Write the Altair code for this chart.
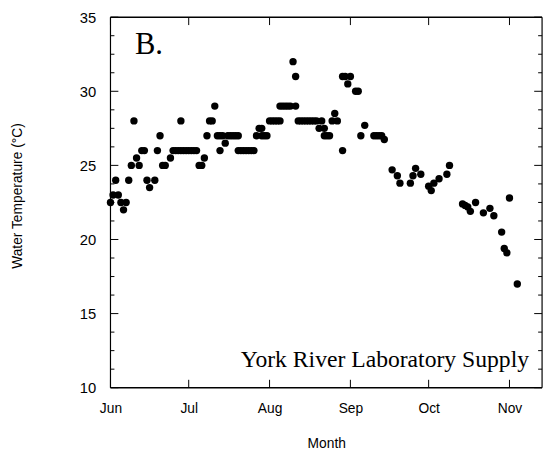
import altair as alt
import pandas as pd

# Day index counted from June 1 (0) ; water temperature in deg C
days = [0, 1, 2, 3, 4, 5, 6, 7, 8, 9, 10, 11, 12, 13, 14, 15, 17, 18, 19, 20, 21, 23,
        24, 25, 26, 27, 27, 28, 29, 30, 31, 32, 33,
        34, 35, 36, 37, 38, 39, 40, 41, 42, 42, 43, 44, 45, 46, 47, 48, 49, 49, 50, 51,
        52, 53, 54, 55, 56, 57, 58, 58, 59, 60, 61, 62, 63, 64, 65,
        65, 66, 67, 68, 69, 70, 71, 71, 72, 73, 74, 75, 76, 77, 78, 79, 80, 81, 82, 82,
        83, 84, 85, 86, 87, 89, 89, 90, 92, 91, 94, 95, 96, 97.5,
        101, 102, 103, 104, 105, 108, 110, 111, 115, 116, 117, 119, 122, 123, 124, 126,
        129, 130,
        135, 136, 137, 138, 140, 143, 145.5, 147, 150, 151, 152, 153, 156]
temps = [22.5, 23, 24, 23, 22.5, 22, 22.5, 24, 25, 28, 25.5, 25, 26, 26, 24, 23.5, 24, 26, 27, 25, 25, 25.5,
         26, 26, 26, 28, 26, 26, 26, 26, 26, 26, 26,
         25, 25, 25.5, 27, 28, 28, 29, 27, 26, 27, 27, 26.5, 27, 27, 27, 27, 27, 26, 26, 26,
         26, 26, 26, 26, 27, 27.5, 27.5, 27, 27, 27, 28, 28, 28, 28, 28,
         29, 29, 29, 29, 29, 32, 31, 29, 28, 28, 28, 28, 28, 28, 28, 28, 27.5, 28, 27, 27.5,
         27, 27, 28, 28.5, 28, 26, 31, 31, 31, 30.5, 30, 30, 27, 27.7,
         27, 27, 27, 27, 26.75, 24.7, 24.3, 23.8, 23.8, 24.3, 24.8, 24.4, 23.6, 23.3, 23.8, 24.1,
         24.4, 25,
         22.4, 22.3, 22.2, 21.9, 22.5, 21.8, 22.1, 21.6, 20.5, 19.4, 19.1, 22.8, 17.0]

month_names = ["Jun", "Jul", "Aug", "Sep", "Oct", "Nov"]
month_days = [0, 30, 61, 92, 122, 153]
y_major = [10, 15, 20, 25, 30, 35]
y_minor = [11.25, 12.5, 13.75, 16.25, 17.5, 18.75, 21.25, 22.5, 23.75,
           26.25, 27.5, 28.75, 31.25, 32.5, 33.75]

panel_label = ["B."]
panel_day = [9.4]
panel_temp = [32.5]
site_label = ["York River Laboratory Supply"]
site_day = [160.5]
site_temp = [11.4]

W, H = 438, 376
X_DOMAIN = [0, 165.5]
Y_DOMAIN = [10, 35]

df = pd.DataFrame({"day": days, "temp": temps})
mdf = pd.DataFrame({"day": month_days, "name": month_names})
ymaj = pd.DataFrame({"temp": y_major})
ymin = pd.DataFrame({"temp": y_minor})
xedge = pd.DataFrame({"day": X_DOMAIN})
yedge = pd.DataFrame({"temp": Y_DOMAIN})

label_expr = " : ".join(
    f"datum.value == {d} ? '{n}'" for d, n in zip(month_days, month_names)
) + " : ''"

xs = alt.Scale(domain=X_DOMAIN, nice=False, zero=False)
ys = alt.Scale(domain=Y_DOMAIN, nice=False, zero=False)

x_axis = alt.Axis(values=month_days, labelExpr=label_expr, title="Month",
                  ticks=False, domain=False, grid=False, labelFlush=False,
                  labelPadding=14, labelFontSize=14, labelFont="Liberation Sans",
                  labelColor="black", titleFont="Liberation Sans", titleFontSize=14,
                  titleFontWeight="normal", titleColor="black",
                  titleY=57, titleBaseline="middle", labelOverlap=False)
y_axis = alt.Axis(values=y_major, title="Water Temperature (°C)",
                  ticks=False, domain=False, grid=False, labelFlush=False,
                  labelPadding=15, labelFontSize=15, labelFont="Liberation Sans",
                  labelColor="black", titleFont="Liberation Sans", titleFontSize=14,
                  titleFontWeight="normal", titleColor="black",
                  titleX=-94, titleY=181, titleAngle=270, titleAlign="center",
                  titleBaseline="middle")

X = lambda: alt.X("day:Q", scale=xs, axis=x_axis)
Y = lambda: alt.Y("temp:Q", scale=ys, axis=y_axis)

points = alt.Chart(df).mark_circle(size=56, color="black", opacity=1).encode(x=X(), y=Y())

def yrule(data, x0, x1, sw=1.0):
    return alt.Chart(data).mark_rule(color="black", strokeWidth=sw).encode(
        y=Y(), x=alt.value(x0), x2=alt.value(x1))

def xrule(data, y0, y1, sw=1.0):
    return alt.Chart(data).mark_rule(color="black", strokeWidth=sw).encode(
        x=X(), y=alt.value(y0), y2=alt.value(y1))

frame = [yrule(yedge, 0, W, 1.4), xrule(xedge, 0, H, 1.2)]

ticks = [
    yrule(ymaj, 0, 8), yrule(ymin, 0, 4),
    yrule(ymaj, W - 8, W), yrule(ymin, W - 4, W),
    xrule(mdf, H - 8, H), xrule(mdf, 0, 8),
]

pdf = pd.DataFrame({"day": panel_day, "temp": panel_temp, "t": panel_label})
sdf = pd.DataFrame({"day": site_day, "temp": site_temp, "t": site_label})

panel = alt.Chart(pdf).mark_text(font="Liberation Serif", fontSize=31, align="left",
                                 baseline="alphabetic", color="black").encode(
    x=X(), y=Y(), text="t:N")
site = alt.Chart(sdf).mark_text(font="Liberation Serif", fontSize=24, align="right",
                                baseline="alphabetic", color="black").encode(
    x=X(), y=Y(), text="t:N")

chart = alt.layer(*frame, points, *ticks, panel, site).properties(
    width=W, height=H,
    autosize=alt.AutoSizeParams(type="none"),
    padding={"left": 104, "top": 6, "right": 5, "bottom": 66},
    background="white",
).configure_view(stroke=None)

chart.save("out.html", embed_options={"renderer": "svg", "actions": False})
